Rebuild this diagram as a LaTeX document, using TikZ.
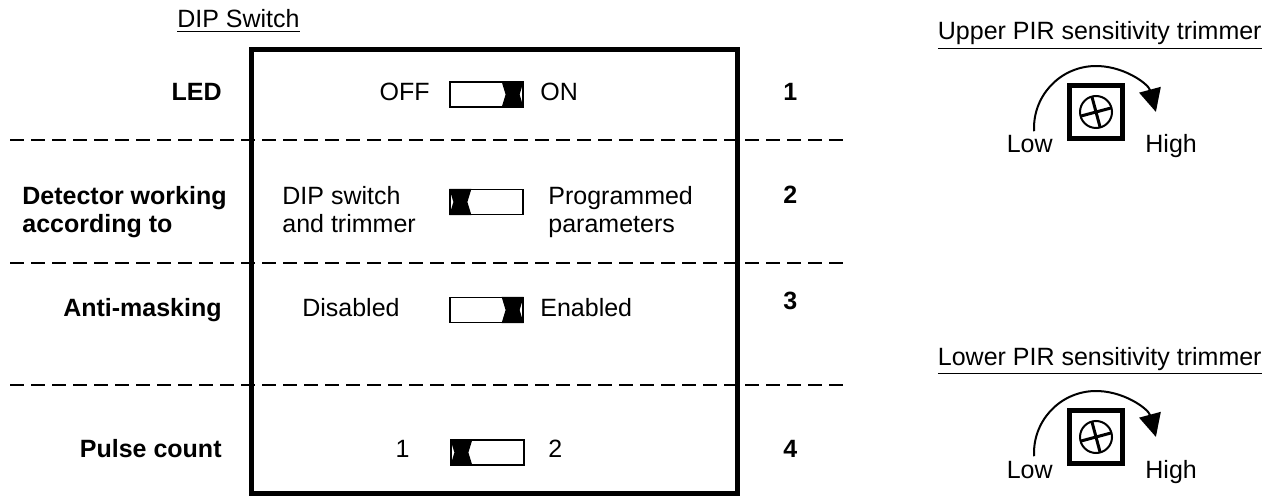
\documentclass[tikz,border=0pt]{standalone}
\usepackage{fontspec}
\setmainfont{Liberation Sans}
\usetikzlibrary{calc,arrows.meta}
\newcommand\swblockR[1]{\fill ($(#1.north east)+(-22,0)$) -- (#1.north east) -- ($(#1.east)+(-4,0)$) -- (#1.south east) -- ($(#1.south east)+(-22,0)$) -- ($(#1.east)+(-18,0)$) -- cycle;}
\newcommand\swblockL[1]{\fill (#1.north west) -- ($(#1.north west)+(22,0)$) -- ($(#1.west)+(18,0)$) -- ($(#1.south west)+(22,0)$) -- (#1.south west) -- ($(#1.west)+(4,0)$) -- cycle;}
\begin{document}
\begin{tikzpicture}[x=0.5pt,y=-0.5pt,
  every node/.style={inner sep=0pt, font=\fontsize{12.5}{14}\selectfont},
  lbl/.style={font=\fontsize{12.5}{14}\selectfont\bfseries},
  sw/.style={draw, line width=0.6pt, minimum width=36.5pt, minimum height=12.5pt},
  hdash/.style={line width=1pt, dash pattern=on 7pt off 3.5pt},
  trim/.style={draw, line width=2.5pt, minimum width=26.5pt, minimum height=26.5pt},
  turn/.style={line width=1pt, -{Triangle[length=11.5pt, width=11pt]}}]
\useasboundingbox (0,0) rectangle (1267,496);
% header
\node[anchor=base east] (dip) at (300,28) {\underline{DIP Switch}};
% main box
\draw[line width=2.5pt] (251,50) rectangle (737,493);
% dashed separators
\draw[hdash] (10,140) -- (850,140);
\draw[hdash] (10,263) -- (850,263);
\draw[hdash] (10,385) -- (850,385);
% row 1
\node[lbl, anchor=base east] (led) at (222,101) {LED};
\node[anchor=base east] (off) at (430,101) {OFF};
\node[sw] (s1) at (486.5,94.5) {};
\swblockR{s1}
\node[anchor=base west] (on) at (540,101) {ON};
\node[lbl, anchor=base west] (n1) at (783,101) {1};
% row 2
\node[lbl, anchor=north west, align=left] (det) at (22,186) {Detector working\\according to};
\node[anchor=north west, align=left] (dsw) at (282,186) {DIP switch\\and trimmer};
\node[sw] (s2) at (486.5,202) {};
\swblockL{s2}
\node[anchor=north west, align=left] (prog) at (548,186) {Programmed\\parameters};
\node[lbl, anchor=base west] (n2) at (783,204) {2};
% row 3
\node[lbl, anchor=base east] (am) at (222,317) {Anti-masking};
\node[anchor=base east] (dis) at (400,317) {Disabled};
\node[sw] (s3) at (486.5,310) {};
\swblockR{s3}
\node[anchor=base west] (en) at (540,317) {Enabled};
\node[lbl, anchor=base west] (n3) at (783,310) {3};
% row 4
\node[lbl, anchor=base east] (pc) at (222,457) {Pulse count};
\node[anchor=base east] (p1) at (410,457) {1};
\node[sw] (s4) at (487.5,452.5) {};
\swblockL{s4}
\node[anchor=base west] (p2) at (548,457) {2};
\node[lbl, anchor=base west] (n4) at (783,457) {4};
% upper trimmer
\node[anchor=base east] (ut) at (1262,40) {\underline{Upper PIR sensitivity trimmer}};
\node[trim] (tu) at (1096,112) {};
\draw[line width=1pt] (tu.center) circle (16);
\draw[line width=1.5pt] ($(tu.center)+(-15:16)$) -- ($(tu.center)+(165:16)$);
\draw[line width=1.5pt] ($(tu.center)+(75:16)$) -- ($(tu.center)+(255:16)$);
\draw[turn] ($(tu.center)+(0,16)+(177:62)$) arc[start angle=177, end angle=345, radius=62];
\node[anchor=base east] (ulow) at (1053,153) {Low};
\node[anchor=base west] (uhigh) at (1145,153) {High};
% lower trimmer
\node[anchor=base east] (lt) at (1262,365) {\underline{Lower PIR sensitivity trimmer}};
\node[trim] (tl) at (1096,437) {};
\draw[line width=1pt] (tl.center) circle (16);
\draw[line width=1.5pt] ($(tl.center)+(-15:16)$) -- ($(tl.center)+(165:16)$);
\draw[line width=1.5pt] ($(tl.center)+(75:16)$) -- ($(tl.center)+(255:16)$);
\draw[turn] ($(tl.center)+(0,16)+(177:62)$) arc[start angle=177, end angle=345, radius=62];
\node[anchor=base east] (llow) at (1053,478) {Low};
\node[anchor=base west] (lhigh) at (1145,478) {High};
\end{tikzpicture}
\end{document}
